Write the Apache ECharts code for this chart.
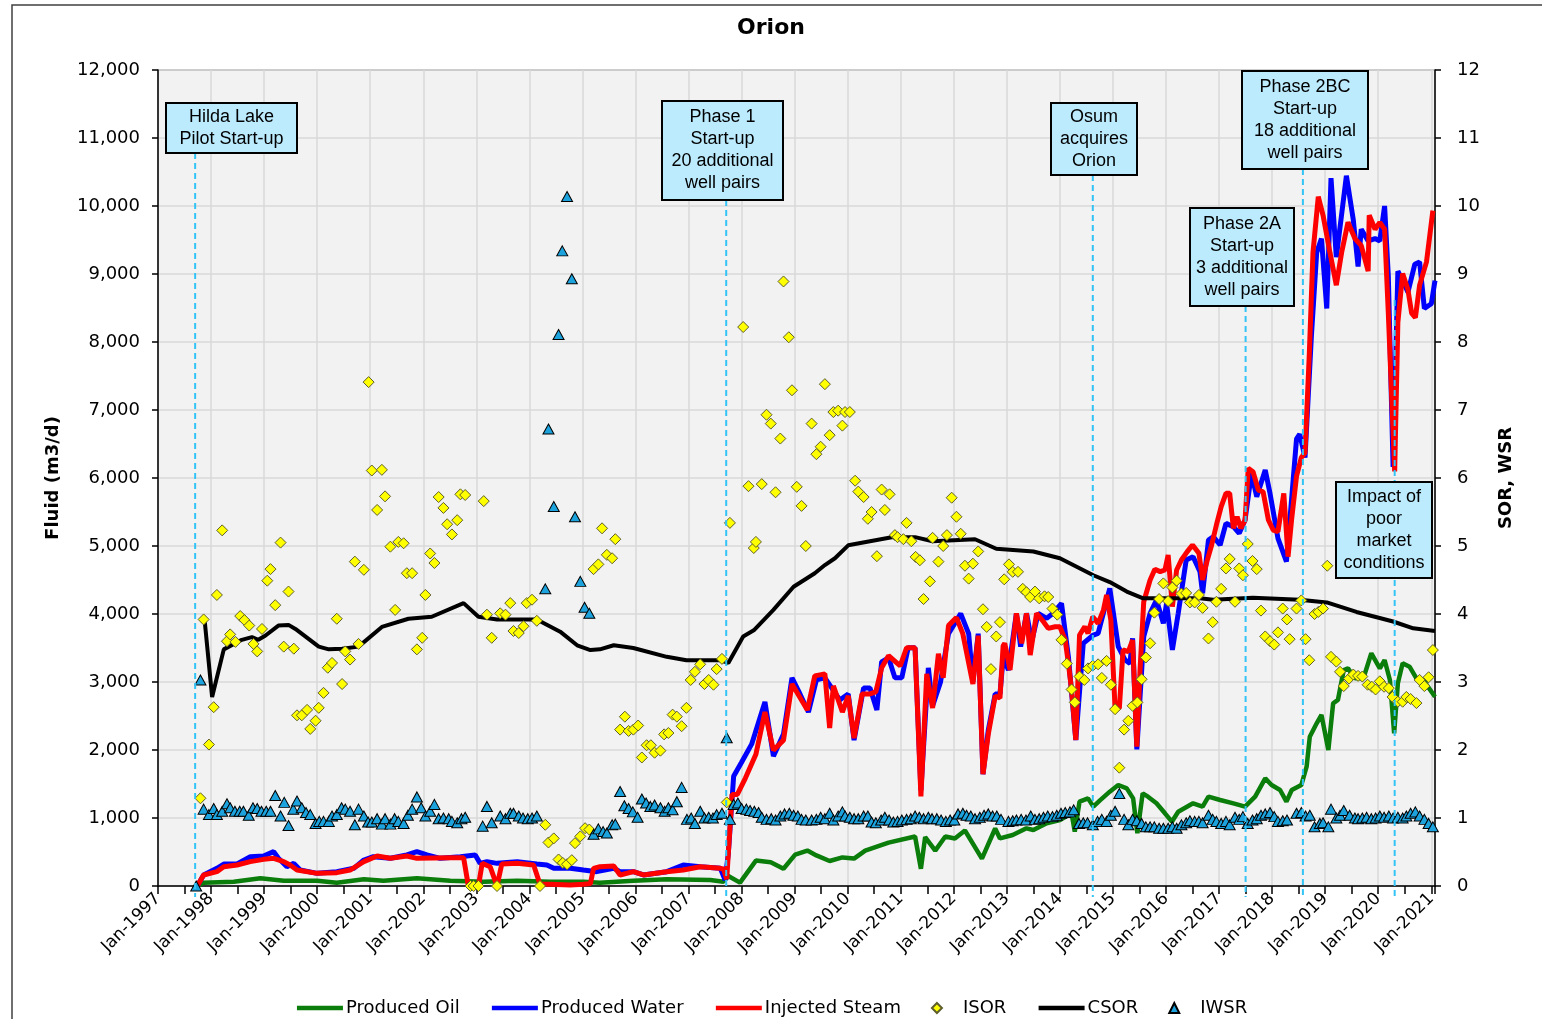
<!DOCTYPE html>
<html><head><meta charset="utf-8">
<script src="https://cdn.jsdelivr.net/npm/echarts/dist/echarts.min.js"></script>
<style>html,body{margin:0;padding:0;background:#fff}#c{width:1542px;height:1019px}</style>
</head><body><div id="c"></div>
<script>
const xTickLabels = ['Jan-1997','Jan-1998','Jan-1999','Jan-2000','Jan-2001','Jan-2002','Jan-2003','Jan-2004','Jan-2005','Jan-2006','Jan-2007','Jan-2008','Jan-2009','Jan-2010','Jan-2011','Jan-2012','Jan-2013','Jan-2014','Jan-2015','Jan-2016','Jan-2017','Jan-2018','Jan-2019','Jan-2020','Jan-2021'];

const oilData = [[1997.74,0],[1997.86,49],[1998.43,64],[1998.93,113],[1999.37,78],[2000.00,78],[2000.37,49],[2000.88,98],[2001.25,78],[2001.88,113],[2002.51,78],[2003.14,64],[2003.77,78],[2004.39,64],[2005.02,64],[2005.33,49],[2005.96,78],[2006.59,98],[2007.41,88],[2007.66,64],[2007.75,147],[2007.97,49],[2008.27,374],[2008.55,350],[2008.79,254],[2009.01,462],[2009.24,521],[2009.41,450],[2009.66,368],[2009.90,420],[2010.12,403],[2010.33,521],[2010.77,638],[2011.27,728],[2011.38,254],[2011.46,720],[2011.65,521],[2011.84,728],[2012.02,698],[2012.21,816],[2012.53,403],[2012.78,846],[2012.87,700],[2013.11,750],[2013.37,848],[2013.50,824],[2013.75,922],[2014.00,971],[2014.22,1069],[2014.28,799],[2014.37,1240],[2014.53,1289],[2014.63,1167],[2014.75,1255],[2014.94,1387],[2015.10,1485],[2015.26,1436],[2015.38,1289],[2015.46,775],[2015.56,1363],[2015.66,1314],[2015.82,1216],[2015.98,1069],[2016.11,946],[2016.23,1093],[2016.51,1216],[2016.69,1167],[2016.80,1314],[2017.02,1265],[2017.27,1216],[2017.49,1167],[2017.68,1314],[2017.87,1583],[2017.99,1485],[2018.15,1412],[2018.27,1240],[2018.37,1412],[2018.55,1485],[2018.65,1755],[2018.71,2196],[2018.84,2393],[2018.93,2515],[2019.06,2000],[2019.15,2687],[2019.24,2736],[2019.35,3176],[2019.43,3200],[2019.56,3054],[2019.72,3054],[2019.87,3422],[2020.03,3200],[2020.12,3323],[2020.22,3030],[2020.30,2245],[2020.37,2981],[2020.46,3275],[2020.59,3225],[2020.72,3054],[2020.87,3005],[2021.07,2784]];

const waterData = [[1997.74,0],[1997.86,162],[1998.11,260],[1998.24,323],[1998.49,323],[1998.74,431],[1998.99,441],[1999.18,505],[1999.27,407],[1999.43,284],[1999.56,333],[1999.68,235],[2000.00,186],[2000.37,211],[2000.69,260],[2000.88,382],[2001.06,431],[2001.38,407],[2001.69,456],[2001.88,505],[2002.07,456],[2002.32,407],[2002.70,431],[2002.98,456],[2003.07,333],[2003.20,358],[2003.39,333],[2003.77,358],[2004.14,323],[2004.33,309],[2004.46,260],[2004.77,260],[2005.02,235],[2005.27,211],[2005.59,260],[2005.71,211],[2005.96,211],[2006.15,162],[2006.59,211],[2006.90,309],[2007.22,284],[2007.60,260],[2007.69,88],[2007.75,480],[2007.85,1613],[2008.00,1820],[2008.19,2086],[2008.44,2706],[2008.60,1909],[2008.79,2233],[2008.95,3061],[2009.10,2824],[2009.26,2558],[2009.41,3031],[2009.57,3061],[2009.85,2736],[2010.01,2824],[2010.12,2145],[2010.30,2913],[2010.42,2913],[2010.55,2588],[2010.64,3297],[2010.77,3356],[2010.89,3061],[2011.02,3061],[2011.14,3504],[2011.27,3504],[2011.38,1406],[2011.52,3209],[2011.60,2647],[2011.75,3002],[2011.90,3711],[2012.13,4006],[2012.28,3711],[2012.36,3002],[2012.46,3711],[2012.55,1643],[2012.65,2292],[2012.78,2824],[2012.87,2824],[2012.93,3356],[2013.03,3176],[2013.18,4010],[2013.26,3520],[2013.37,4010],[2013.47,3600],[2013.59,4010],[2013.75,3936],[2013.87,4010],[2014.03,4157],[2014.16,3372],[2014.30,2148],[2014.44,3569],[2014.63,3691],[2014.72,3715],[2014.94,4377],[2015.10,3520],[2015.23,3323],[2015.32,3274],[2015.37,3642],[2015.45,2010],[2015.58,3666],[2015.70,4010],[2015.82,4206],[2015.95,3862],[2016.01,4157],[2016.12,3471],[2016.23,4010],[2016.38,4794],[2016.51,4843],[2016.64,4623],[2016.69,4304],[2016.80,5088],[2016.89,5137],[2017.02,5015],[2017.13,5333],[2017.27,5284],[2017.38,5186],[2017.49,5382],[2017.61,6068],[2017.71,5725],[2017.87,6117],[2017.96,5774],[2018.11,5113],[2018.27,4770],[2018.46,6575],[2018.52,6644],[2018.62,6301],[2018.74,8082],[2018.84,9315],[2018.93,9521],[2019.03,8493],[2019.11,10411],[2019.21,9247],[2019.40,10445],[2019.53,9795],[2019.62,9110],[2019.68,9658],[2019.81,9486],[2019.94,9521],[2020.03,9486],[2020.12,10000],[2020.19,8973],[2020.28,6164],[2020.37,9041],[2020.46,8904],[2020.56,8733],[2020.69,9144],[2020.78,9178],[2020.87,8493],[2021.00,8562],[2021.07,8904]];

const steamData = [[1997.74,0],[1997.86,162],[1998.11,211],[1998.24,284],[1998.49,309],[1998.74,358],[1998.99,392],[1999.18,407],[1999.37,358],[1999.49,309],[1999.62,235],[2000.00,186],[2000.37,196],[2000.62,235],[2000.88,358],[2001.13,441],[2001.38,407],[2001.69,441],[2001.88,407],[2002.51,417],[2002.76,417],[2002.85,0],[2003.04,0],[2003.11,333],[2003.26,284],[2003.39,0],[2003.48,323],[2003.77,333],[2004.08,309],[2004.20,25],[2004.39,25],[2004.77,15],[2005.02,25],[2005.15,35],[2005.21,260],[2005.33,284],[2005.59,294],[2005.71,162],[2005.96,211],[2006.15,162],[2006.59,211],[2006.90,235],[2007.22,284],[2007.60,260],[2007.66,250],[2007.72,100],[2007.82,1347],[2007.92,1347],[2008.07,1584],[2008.27,1938],[2008.44,2558],[2008.60,1997],[2008.79,2145],[2008.95,2972],[2009.24,2588],[2009.38,3090],[2009.57,3120],[2009.66,2322],[2009.73,2943],[2009.90,2558],[2010.01,2795],[2010.12,2174],[2010.27,2824],[2010.42,2824],[2010.53,2854],[2010.64,3209],[2010.77,3386],[2010.99,3238],[2011.11,3504],[2011.27,3504],[2011.38,1318],[2011.49,3120],[2011.60,2618],[2011.71,3415],[2011.80,3061],[2011.90,3829],[2012.05,3947],[2012.17,3711],[2012.36,2972],[2012.46,3681],[2012.55,1643],[2012.65,2233],[2012.78,2795],[2012.87,2765],[2012.93,3533],[2012.96,3569],[2013.06,3176],[2013.18,4010],[2013.28,3569],[2013.37,4010],[2013.44,3397],[2013.56,4010],[2013.69,3887],[2013.78,3789],[2013.91,3813],[2014.00,3813],[2014.10,3617],[2014.16,3274],[2014.22,2883],[2014.30,2148],[2014.37,3691],[2014.47,3813],[2014.53,3715],[2014.62,3960],[2014.72,3862],[2014.82,4058],[2014.88,4279],[2014.96,3911],[2015.04,2613],[2015.12,2613],[2015.19,3471],[2015.29,3446],[2015.37,3617],[2015.45,2049],[2015.51,3176],[2015.58,4181],[2015.70,4500],[2015.79,4657],[2015.89,4623],[2015.98,4647],[2016.04,4868],[2016.12,4108],[2016.20,4647],[2016.29,4794],[2016.40,4917],[2016.50,5015],[2016.62,4893],[2016.69,4500],[2016.77,4770],[2016.86,5015],[2016.95,5309],[2017.04,5578],[2017.13,5774],[2017.20,5774],[2017.27,5260],[2017.34,5431],[2017.41,5260],[2017.49,5382],[2017.55,6142],[2017.64,6093],[2017.74,5823],[2017.83,5798],[2017.93,5382],[2018.02,5235],[2018.11,5211],[2018.22,5774],[2018.30,4843],[2018.37,5410],[2018.46,6027],[2018.55,6301],[2018.62,6370],[2018.70,7808],[2018.77,9315],[2018.87,10137],[2018.96,9863],[2019.09,9315],[2019.21,8836],[2019.31,9315],[2019.43,9760],[2019.56,9521],[2019.68,9418],[2019.81,9041],[2019.83,9863],[2019.94,9658],[2020.03,9760],[2020.12,9658],[2020.19,8425],[2020.25,7260],[2020.31,6096],[2020.37,8288],[2020.46,9007],[2020.56,8767],[2020.63,8425],[2020.70,8356],[2020.78,8836],[2020.91,9178],[2021.03,9932]];

const csorData = [[1997.80,3.93],[1997.88,3.90],[1998.02,2.78],[1998.24,3.48],[1998.58,3.62],[1998.77,3.66],[1998.89,3.62],[1999.02,3.68],[1999.27,3.83],[1999.46,3.84],[1999.59,3.78],[2000.03,3.52],[2000.22,3.48],[2000.47,3.49],[2000.78,3.52],[2001.22,3.81],[2001.72,3.93],[2002.16,3.96],[2002.76,4.16],[2003.04,3.96],[2003.39,3.92],[2004.14,3.92],[2004.58,3.74],[2004.90,3.54],[2005.15,3.47],[2005.33,3.48],[2005.59,3.54],[2005.96,3.50],[2006.59,3.37],[2006.96,3.32],[2007.60,3.32],[2007.75,3.28],[2008.03,3.67],[2008.23,3.76],[2008.60,4.06],[2008.98,4.40],[2009.38,4.60],[2009.57,4.72],[2009.76,4.82],[2010.01,5.01],[2010.83,5.13],[2011.27,5.13],[2011.60,5.07],[2012.40,5.10],[2012.80,4.96],[2013.50,4.92],[2014.00,4.82],[2014.63,4.57],[2014.94,4.47],[2015.26,4.33],[2015.57,4.23],[2016.64,4.23],[2016.89,4.21],[2017.64,4.24],[2018.52,4.21],[2019.03,4.17],[2019.59,4.03],[2020.28,3.89],[2020.66,3.79],[2021.07,3.75]];

const isorData = [[1997.80,1.29],[1997.86,3.92],[1997.96,2.08],[1998.05,2.63],[1998.11,4.28],[1998.21,5.23],[1998.30,3.60],[1998.36,3.70],[1998.46,3.59],[1998.55,3.97],[1998.63,3.91],[1998.72,3.83],[1998.80,3.56],[1998.87,3.45],[1998.96,3.78],[1999.06,4.49],[1999.12,4.66],[1999.21,4.13],[1999.31,5.05],[1999.37,3.52],[1999.46,4.33],[1999.56,3.49],[1999.62,2.51],[1999.71,2.51],[1999.81,2.59],[1999.87,2.31],[1999.97,2.43],[2000.03,2.62],[2000.12,2.84],[2000.20,3.21],[2000.28,3.28],[2000.37,3.93],[2000.47,2.97],[2000.53,3.45],[2000.62,3.33],[2000.71,4.77],[2000.78,3.56],[2000.88,4.65],[2000.97,7.41],[2001.03,6.11],[2001.13,5.53],[2001.22,6.12],[2001.28,5.73],[2001.38,4.99],[2001.47,4.06],[2001.53,5.06],[2001.63,5.04],[2001.69,4.60],[2001.79,4.60],[2001.88,3.48],[2001.98,3.65],[2002.04,4.28],[2002.13,4.89],[2002.21,4.75],[2002.29,5.72],[2002.38,5.56],[2002.45,5.32],[2002.54,5.17],[2002.64,5.38],[2002.70,5.76],[2002.79,5.75],[2002.89,0],[2002.95,0],[2003.04,0],[2003.14,5.66],[2003.20,3.99],[2003.29,3.65],[2003.39,0],[2003.45,4.01],[2003.55,3.99],[2003.64,4.16],[2003.70,3.75],[2003.80,3.72],[2003.89,3.82],[2003.95,4.16],[2004.05,4.21],[2004.14,3.90],[2004.20,0],[2004.30,0.90],[2004.36,0.64],[2004.46,0.70],[2004.55,0.39],[2004.63,0.34],[2004.71,0.32],[2004.80,0.38],[2004.86,0.63],[2004.96,0.73],[2005.05,0.85],[2005.13,0.83],[2005.21,4.66],[2005.30,4.73],[2005.37,5.26],[2005.46,4.87],[2005.56,4.82],[2005.62,5.10],[2005.71,2.30],[2005.80,2.49],[2005.87,2.28],[2005.96,2.30],[2006.05,2.36],[2006.12,1.89],[2006.21,2.07],[2006.29,2.07],[2006.36,1.96],[2006.47,1.99],[2006.54,2.23],[2006.62,2.25],[2006.70,2.52],[2006.78,2.49],[2006.87,2.35],[2006.96,2.62],[2007.04,3.03],[2007.12,3.15],[2007.22,3.26],[2007.30,2.97],[2007.38,3.03],[2007.47,2.96],[2007.53,3.19],[2007.63,3.34],[2007.72,1.23],[2007.78,5.34],[2008.03,8.22],[2008.13,5.88],[2008.23,4.97],[2008.27,5.06],[2008.38,5.91],[2008.47,6.93],[2008.55,6.80],[2008.64,5.79],[2008.73,6.58],[2008.79,8.89],[2008.89,8.07],[2008.95,7.29],[2009.04,5.87],[2009.13,5.59],[2009.21,5.00],[2009.32,6.80],[2009.41,6.35],[2009.49,6.46],[2009.57,7.38],[2009.66,6.63],[2009.73,6.97],[2009.82,6.99],[2009.90,6.77],[2009.95,6.97],[2010.04,6.97],[2010.14,5.96],[2010.20,5.80],[2010.30,5.72],[2010.38,5.40],[2010.45,5.50],[2010.55,4.85],[2010.64,5.83],[2010.70,5.53],[2010.79,5.76],[2010.89,5.16],[2010.94,5.13],[2011.05,5.10],[2011.11,5.34],[2011.20,5.07],[2011.28,4.84],[2011.36,4.79],[2011.43,4.22],[2011.55,4.48],[2011.60,5.12],[2011.71,4.77],[2011.80,5.00],[2011.87,5.16],[2011.96,5.71],[2012.05,5.43],[2012.13,5.18],[2012.21,4.71],[2012.28,4.52],[2012.36,4.74],[2012.46,4.92],[2012.55,4.07],[2012.62,3.81],[2012.70,3.19],[2012.80,3.67],[2012.87,3.88],[2012.95,4.51],[2013.04,4.73],[2013.11,4.62],[2013.21,4.62],[2013.30,4.37],[2013.37,4.32],[2013.44,4.25],[2013.53,4.33],[2013.61,4.23],[2013.71,4.26],[2013.78,4.25],[2013.86,4.08],[2013.95,3.99],[2014.03,3.62],[2014.13,3.27],[2014.22,2.89],[2014.28,2.70],[2014.37,3.08],[2014.46,3.03],[2014.53,3.20],[2014.62,3.24],[2014.72,3.26],[2014.79,3.06],[2014.88,3.31],[2014.96,2.96],[2015.04,2.60],[2015.12,1.74],[2015.21,2.30],[2015.29,2.43],[2015.37,2.65],[2015.46,2.70],[2015.54,3.04],[2015.62,3.36],[2015.70,3.57],[2015.78,4.02],[2015.87,4.22],[2015.95,4.45],[2016.04,4.19],[2016.12,4.39],[2016.20,4.49],[2016.29,4.30],[2016.38,4.31],[2016.45,4.17],[2016.54,4.17],[2016.62,4.28],[2016.69,4.09],[2016.80,3.64],[2016.88,3.88],[2016.95,4.18],[2017.04,4.37],[2017.13,4.67],[2017.20,4.81],[2017.30,4.18],[2017.38,4.67],[2017.45,4.57],[2017.54,5.03],[2017.63,4.78],[2017.71,4.66],[2017.79,4.05],[2017.87,3.67],[2017.96,3.60],[2018.04,3.55],[2018.11,3.73],[2018.20,4.08],[2018.28,3.92],[2018.33,3.63],[2018.46,4.08],[2018.55,4.20],[2018.63,3.63],[2018.70,3.32],[2018.80,4.00],[2018.87,4.03],[2018.96,4.08],[2019.04,4.71],[2019.11,3.37],[2019.21,3.30],[2019.28,3.15],[2019.35,2.94],[2019.45,3.05],[2019.53,3.11],[2019.62,3.09],[2019.70,3.08],[2019.80,2.96],[2019.88,2.93],[2019.95,2.89],[2020.03,3.01],[2020.11,2.93],[2020.20,2.91],[2020.27,2.78],[2020.37,2.71],[2020.46,2.71],[2020.53,2.78],[2020.61,2.75],[2020.72,2.69],[2020.78,3.03],[2020.87,2.94],[2020.95,3.07],[2021.03,3.47]];

const iwsrData = [[1997.72,0],[1997.80,3.03],[1997.86,1.13],[1997.96,1.05],[1998.05,1.14],[1998.11,1.05],[1998.21,1.10],[1998.30,1.21],[1998.36,1.15],[1998.45,1.10],[1998.54,1.10],[1998.61,1.10],[1998.71,1.04],[1998.79,1.15],[1998.87,1.14],[1998.95,1.10],[1999.04,1.10],[1999.12,1.10],[1999.21,1.33],[1999.31,1.03],[1999.38,1.23],[1999.46,0.89],[1999.55,1.13],[1999.62,1.25],[1999.71,1.15],[1999.79,1.08],[1999.87,1.05],[1999.97,0.92],[2000.04,0.95],[2000.12,0.95],[2000.22,0.95],[2000.28,1.03],[2000.37,1.05],[2000.46,1.15],[2000.53,1.13],[2000.62,1.10],[2000.71,0.90],[2000.78,1.13],[2000.88,1.03],[2000.96,0.94],[2001.03,0.94],[2001.13,0.99],[2001.22,0.91],[2001.28,0.99],[2001.38,0.91],[2001.46,0.99],[2001.53,0.95],[2001.63,0.92],[2001.71,1.04],[2001.79,1.13],[2001.88,1.31],[2001.96,1.15],[2002.04,1.03],[2002.13,1.10],[2002.21,1.20],[2002.29,0.99],[2002.38,1.00],[2002.48,0.99],[2002.54,0.95],[2002.64,0.93],[2002.72,0.99],[2002.79,1.01],[2003.12,0.88],[2003.20,1.17],[2003.29,0.93],[2003.45,1.03],[2003.55,0.99],[2003.64,1.07],[2003.70,1.07],[2003.80,1.03],[2003.88,1.00],[2003.97,0.99],[2004.05,1.00],[2004.14,1.03],[2004.30,4.37],[2004.36,6.72],[2004.46,5.58],[2004.55,8.11],[2004.62,9.34],[2004.71,10.14],[2004.80,8.93],[2004.86,5.43],[2004.96,4.48],[2005.04,4.10],[2005.13,4.01],[2005.21,0.76],[2005.30,0.84],[2005.39,0.80],[2005.46,0.78],[2005.56,0.90],[2005.62,0.91],[2005.71,1.39],[2005.79,1.18],[2005.87,1.14],[2005.95,1.09],[2006.04,1.01],[2006.12,1.28],[2006.20,1.22],[2006.28,1.17],[2006.36,1.19],[2006.47,1.15],[2006.55,1.10],[2006.62,1.15],[2006.70,1.12],[2006.78,1.24],[2006.87,1.45],[2006.97,0.98],[2007.05,1.00],[2007.12,0.92],[2007.22,1.10],[2007.30,1.00],[2007.38,1.01],[2007.46,1.00],[2007.53,1.05],[2007.63,1.07],[2007.72,2.18],[2007.78,0.98],[2007.85,1.20],[2007.93,1.22],[2008.00,1.14],[2008.09,1.13],[2008.16,1.11],[2008.24,1.10],[2008.32,1.08],[2008.38,1.01],[2008.47,0.98],[2008.56,0.99],[2008.64,0.97],[2008.73,1.03],[2008.81,1.06],[2008.90,1.07],[2008.98,1.04],[2009.06,1.03],[2009.13,0.98],[2009.21,0.97],[2009.32,0.97],[2009.41,0.98],[2009.49,1.01],[2009.57,0.99],[2009.66,1.07],[2009.73,0.97],[2009.82,1.03],[2009.90,1.09],[2009.95,1.03],[2010.04,1.01],[2010.12,0.99],[2010.20,0.99],[2010.30,1.03],[2010.38,1.03],[2010.45,0.94],[2010.53,0.93],[2010.63,0.97],[2010.70,1.01],[2010.78,0.97],[2010.86,0.94],[2010.94,0.95],[2011.02,0.97],[2011.11,0.98],[2011.19,0.99],[2011.27,1.03],[2011.35,1.01],[2011.43,0.99],[2011.52,1.01],[2011.59,0.99],[2011.68,0.99],[2011.76,0.97],[2011.85,0.95],[2011.93,0.97],[2012.01,0.97],[2012.08,1.06],[2012.17,1.07],[2012.24,1.04],[2012.32,1.03],[2012.40,0.99],[2012.49,1.01],[2012.57,1.04],[2012.65,1.06],[2012.73,1.03],[2012.81,1.03],[2012.89,0.98],[2013.03,0.95],[2013.11,0.96],[2013.18,0.97],[2013.27,0.98],[2013.36,0.97],[2013.45,1.03],[2013.53,0.98],[2013.61,0.99],[2013.69,1.01],[2013.77,1.03],[2013.86,1.02],[2013.94,1.04],[2014.02,1.07],[2014.10,1.08],[2014.19,1.09],[2014.26,1.12],[2014.36,0.92],[2014.44,0.93],[2014.52,0.93],[2014.62,0.90],[2014.71,0.95],[2014.79,0.98],[2014.88,0.95],[2014.96,1.04],[2015.04,1.10],[2015.12,1.36],[2015.21,0.98],[2015.29,0.90],[2015.37,0.98],[2015.45,0.96],[2015.54,0.92],[2015.62,0.87],[2015.70,0.87],[2015.78,0.87],[2015.87,0.85],[2015.95,0.85],[2016.04,0.85],[2016.12,0.87],[2016.20,0.85],[2016.29,0.90],[2016.38,0.93],[2016.45,0.96],[2016.54,0.95],[2016.62,0.95],[2016.69,0.93],[2016.80,1.04],[2016.88,0.98],[2016.95,0.95],[2017.04,0.92],[2017.13,0.95],[2017.20,0.90],[2017.30,1.01],[2017.38,0.98],[2017.45,1.02],[2017.54,0.92],[2017.63,0.97],[2017.71,0.99],[2017.79,1.04],[2017.87,1.06],[2017.96,1.08],[2018.04,1.02],[2018.11,0.95],[2018.20,0.96],[2018.28,0.97],[2018.46,1.07],[2018.55,1.08],[2018.63,1.03],[2018.71,1.04],[2018.80,0.87],[2018.90,0.92],[2018.96,0.93],[2019.06,0.87],[2019.11,1.13],[2019.21,1.00],[2019.28,1.04],[2019.35,1.11],[2019.46,1.04],[2019.56,1.00],[2019.62,0.99],[2019.70,1.00],[2019.78,1.01],[2019.87,0.99],[2019.95,1.00],[2020.03,1.03],[2020.11,1.01],[2020.20,1.03],[2020.28,1.00],[2020.37,1.01],[2020.46,1.00],[2020.53,1.03],[2020.61,1.07],[2020.70,1.09],[2020.78,1.03],[2020.87,0.98],[2020.95,0.92],[2021.03,0.87]];

const eventYears = [1997.70, 2007.71, 2014.62, 2017.50, 2018.58, 2020.31];
const eventTexts = ['Hilda Lake\nPilot Start-up', 'Phase 1\nStart-up\n20 additional\nwell pairs', 'Osum\nacquires\nOrion', 'Phase 2A\nStart-up\n3 additional\nwell pairs', 'Phase 2BC\nStart-up\n18 additional\nwell pairs', 'Impact of\npoor\nmarket\nconditions'];
// layout (pixels) of the annotation boxes and dashed line tops
const eventLayout = [
  {lineTop:153, box:[166,103,131,50]},
  {lineTop:200, box:[662,101,121,99]},
  {lineTop:175, box:[1051,103,86,72]},
  {lineTop:306, box:[1190,208,104,98]},
  {lineTop:169, box:[1242,71,126,98]},
  {lineTop:300, box:[1336,482,96,96]}
];

const FONT = '"DejaVu Sans", Verdana, sans-serif';
const chart = echarts.init(document.getElementById('c'), null, {renderer:'canvas'});

const lineLegend = (name) => ({name, itemStyle:{opacity:0}, lineStyle:{width:4.5}});
const option = {
  animation: false,
  backgroundColor: '#ffffff',
  title: {text:'Orion', left:'center', top:12, textStyle:{fontFamily:FONT, fontSize:22, fontWeight:'bold', color:'#000'}},
  legend: {
    top: 994, left: 'center', itemWidth: 46, itemHeight: 10, itemGap: 30,
    textStyle: {fontFamily:FONT, fontSize:18, color:'#000', padding:[0,0,0,-2]},
    data: [
      lineLegend('Produced Oil'), lineLegend('Produced Water'), lineLegend('Injected Steam'),
      {name:'ISOR', icon:'path://M5,0L10,5L5,10L0,5Z'},
      lineLegend('CSOR'),
      {name:'IWSR', icon:'path://M5,0L10,10L0,10Z'}
    ]
  },
  grid: {left:158, right:107, top:70, bottom:133, show:true, backgroundColor:'#f2f2f2', borderColor:'#595959', borderWidth:1},
  xAxis: {
    type:'value', min:1997, max:2021.07, interval:1,
    axisLine:{show:true, onZero:false, lineStyle:{color:'#000', width:1.5}},
    axisTick:{show:true, length:8, lineStyle:{color:'#000', width:1.5}},
    minorTick:{show:true, splitNumber:2, length:8, lineStyle:{color:'#000', width:1.5}},
    splitLine:{show:true, lineStyle:{color:'#d9d9d9', width:1.5}},
    axisLabel:{rotate:45, margin:10, fontFamily:FONT, fontSize:17, color:'#000',
      formatter: v => { const i = Math.round(v - 1997); return Math.abs(v - 1997 - i) < 1e-6 ? (xTickLabels[i] || '') : ''; }}
  },
  yAxis: [
    {type:'value', min:0, max:12000, interval:1000, position:'left',
     name:'Fluid (m3/d)', nameLocation:'middle', nameGap:96, nameRotate:90,
     nameTextStyle:{fontFamily:FONT, fontSize:18, fontWeight:'bold', color:'#000'},
     axisLine:{show:true, lineStyle:{color:'#000', width:1.5}},
     axisTick:{show:true, length:6, lineStyle:{color:'#000', width:1.5}},
     splitLine:{show:true, lineStyle:{color:'#d9d9d9', width:1.5}},
     axisLabel:{margin:18, fontFamily:FONT, fontSize:18, color:'#000', formatter: v => v.toLocaleString('en-US')}},
    {type:'value', min:0, max:12, interval:1, position:'right',
     name:'SOR, WSR', nameLocation:'middle', nameGap:62, nameRotate:90,
     nameTextStyle:{fontFamily:FONT, fontSize:18, fontWeight:'bold', color:'#000'},
     axisLine:{show:true, lineStyle:{color:'#000', width:1.5}},
     axisTick:{show:true, length:6, lineStyle:{color:'#000', width:1.5}},
     splitLine:{show:false},
     axisLabel:{margin:22, fontFamily:FONT, fontSize:18, color:'#000'}}
  ],
  series: [
    {name:'Produced Oil', type:'line', yAxisIndex:0, data:oilData, symbol:'none', z:3,
     lineStyle:{color:'#0a7d0a', width:4.5}, itemStyle:{color:'#0a7d0a'}},
    {name:'Produced Water', type:'line', yAxisIndex:0, data:waterData, symbol:'none', z:3,
     lineStyle:{color:'#0000ff', width:5}, itemStyle:{color:'#0000ff'}},
    {name:'Injected Steam', type:'line', yAxisIndex:0, data:steamData, symbol:'none', z:3,
     lineStyle:{color:'#ff0000', width:5}, itemStyle:{color:'#ff0000'}},
    {name:'ISOR', type:'scatter', yAxisIndex:1, data:isorData, symbol:'diamond', symbolSize:[11,11], z:5,
     itemStyle:{color:'#ffff00', borderColor:'#5e5e2a', borderWidth:1, opacity:1}},
    {name:'CSOR', type:'line', yAxisIndex:1, data:csorData, symbol:'none', z:4,
     lineStyle:{color:'#000000', width:4}, itemStyle:{color:'#000000'}},
    {name:'IWSR', type:'scatter', yAxisIndex:1, data:iwsrData, symbol:'triangle', symbolSize:[11,10], z:6,
     itemStyle:{color:'#1ca2dc', borderColor:'#000000', borderWidth:1, opacity:1}}
  ]
};
chart.setOption(option);

const graphics = [
  {type:'rect', silent:true, z:0, shape:{x:12, y:5, width:1600, height:1100}, style:{fill:'none', stroke:'#404040', lineWidth:1.5}}
];
eventYears.forEach((yr, i) => {
  const px = chart.convertToPixel({xAxisIndex:0}, yr);
  const L = eventLayout[i];
  graphics.push({type:'line', silent:true, z:50, shape:{x1:px, y1:L.lineTop, x2:px, y2:897},
    style:{stroke:'#33c3f5', lineWidth:2, lineDash:[6,4]}});
  const [bx, by, bw, bh] = L.box;
  graphics.push({type:'rect', silent:true, z:60, shape:{x:bx, y:by, width:bw, height:bh},
    style:{fill:'#bdebfe', stroke:'#000', lineWidth:2}});
  graphics.push({type:'text', silent:true, z:61, x:bx + bw/2, y:by + bh/2,
    style:{text:eventTexts[i], font:'18px "Liberation Sans", Arial, sans-serif', fill:'#000', align:'center', verticalAlign:'middle', lineHeight:22}});
});
chart.setOption({graphic: graphics});
</script></body></html>
